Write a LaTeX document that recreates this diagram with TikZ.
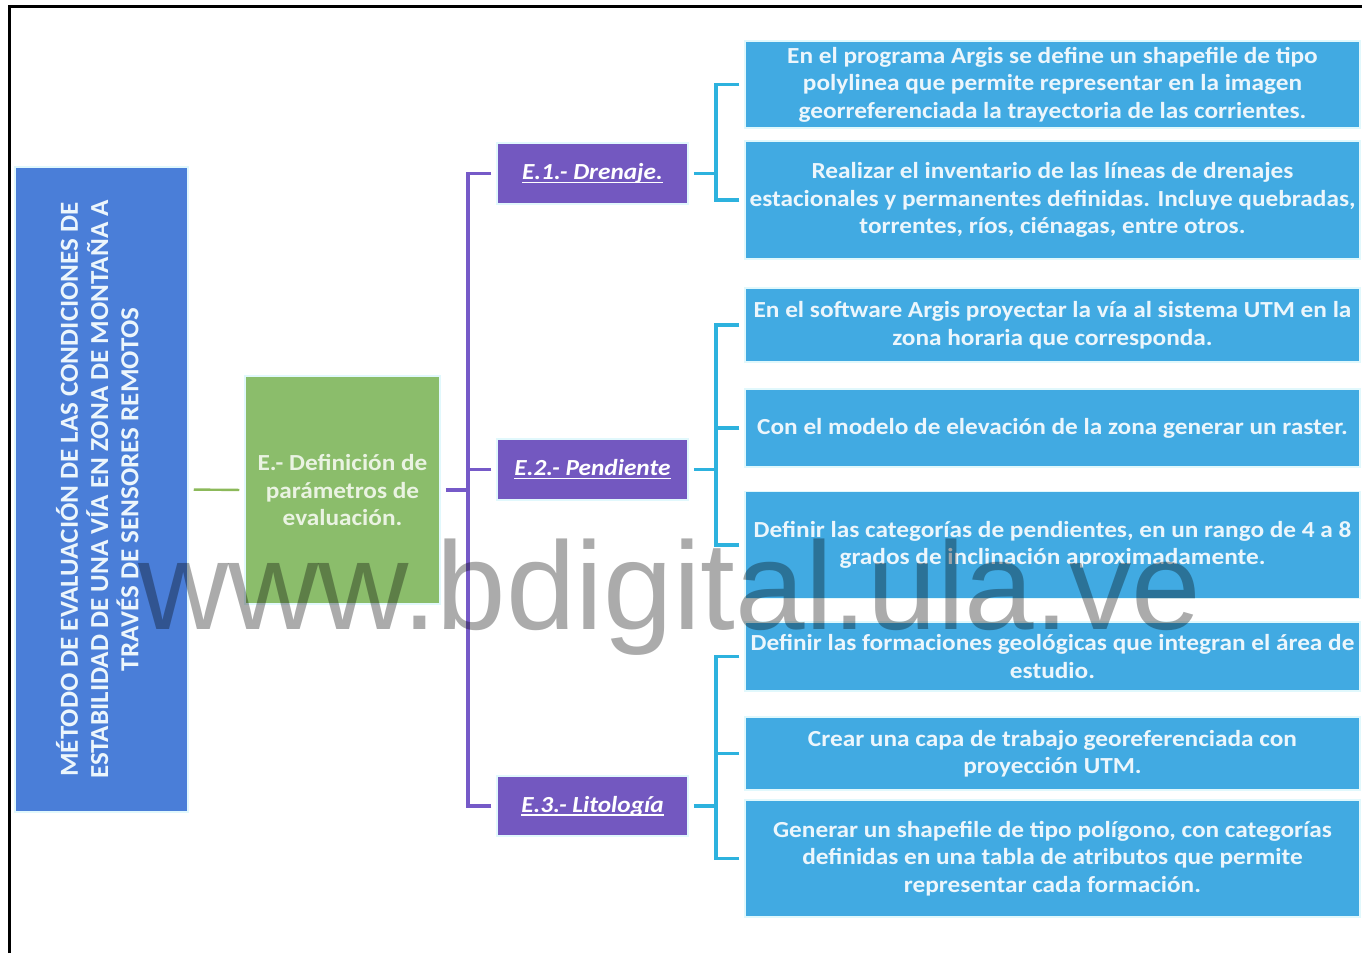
\documentclass[tikz,border=0pt]{standalone}
\usepackage{fontspec}
\setmainfont{Carlito}
\newfontfamily\boxfont{Carlito}[FakeStretch=1.10]
\newfontfamily\titlefont{Carlito}[FakeStretch=1.04]
\newfontfamily\wmfont{Liberation Sans}
\usepackage{graphicx}

% underline sitting just below the baseline
\newcommand\baseul[1]{\setbox0\hbox{#1}\rlap{\rule[-3.5pt]{\wd0}{1.3pt}}\box0}

\definecolor{mainblue}{RGB}{74,126,216}
\definecolor{leafgreen}{RGB}{139,189,107}
\definecolor{greentext}{RGB}{234,243,226}
\definecolor{violetbox}{RGB}{115,88,192}
\definecolor{skyblue}{RGB}{65,170,226}
\definecolor{boxtext}{RGB}{236,246,252}
\definecolor{glowcyan}{RGB}{225,248,252}
\definecolor{olive}{RGB}{140,185,90}
\definecolor{violetline}{RGB}{118,90,200}
\definecolor{cyanline}{RGB}{45,178,222}

\begin{document}
\begin{tikzpicture}[x=1pt,y=-1pt,
  box/.style={inner sep=0pt, align=center, draw=glowcyan, line width=1.5pt,
              font=\boxfont\fontsize{23}{27.5}\selectfont\bfseries},
  mainbox/.style={box, fill=mainblue, text=boxtext, minimum width=173pt, minimum height=645pt,
                  font=\titlefont\fontsize{26}{28}\selectfont\bfseries},
  greenbox/.style={box, fill=leafgreen, text=greentext, minimum width=195pt, minimum height=228pt},
  subbox/.style={box, fill=violetbox, text=white, minimum width=191pt, minimum height=61pt,
                 font=\boxfont\fontsize{23}{27.5}\selectfont\bfseries\itshape},
  infobox/.style={box, fill=skyblue, text=boxtext, minimum width=615pt},
  link/.style={line width=3.2pt, line join=miter, shorten <=5pt}
]
\useasboundingbox (0,0) rectangle (1362,953);

% frame
\draw[line width=3pt] (9,953) -- (9,6) -- (1362,6);

% title block
\node[mainbox] (main) at (101.5,489.5) {\rotatebox{90}{\begin{tabular}{@{}c@{}}
  MÉTODO DE EVALUACIÓN DE LAS CONDICIONES DE\\
  ESTABILIDAD DE UNA VÍA EN ZONA DE MONTAÑA A\\
  TRAVÉS DE SENSORES REMOTOS\end{tabular}}};

% parameter block
\node[greenbox] (param) at (342.5,490) {E.- Definición de\\parámetros de\\evaluación.};

% sub-topics
\node[subbox] (e1) at (592.5,173.5) {\baseul{E.1.- Drenaje.}};
\node[subbox] (e2) at (592.5,469.5) {\baseul{E.2.- Pendiente}};
\node[subbox, minimum height=60pt] (e3) at (592.5,806) {\baseul{E.3.- Litología}};

% steps
\node[infobox, minimum height=87pt] (b1) at (1052.5,84.5)
  {En el programa Argis se define un shapefile de tipo\\polylinea que permite representar en la imagen\\georreferenciada la trayectoria de las corrientes.};
\node[infobox, minimum height=118pt] (b2) at (1052.5,200)
  {Realizar el inventario de las líneas de drenajes\\estacionales y permanentes definidas. Incluye quebradas,\\torrentes, ríos, ciénagas, entre otros.};
\node[infobox, minimum height=74pt] (b3) at (1052.5,325)
  {En el software Argis proyectar la vía al sistema UTM en la\\zona horaria que corresponda.};
\node[infobox, minimum height=78pt] (b4) at (1052.5,428)
  {Con el modelo de elevación de la zona generar un raster.};
\node[infobox, minimum height=107pt] (b5) at (1052.5,545)
  {Definir las categorías de pendientes, en un rango de 4 a 8\\grados de inclinación aproximadamente.};
\node[infobox, minimum height=69pt] (b6) at (1052.5,656.5)
  {Definir las formaciones geológicas que integran el área de\\estudio.};
\node[infobox, minimum height=73pt] (b7) at (1052.5,753.5)
  {Crear una capa de trabajo georeferenciada con\\proyección UTM.};
\node[infobox, minimum height=117pt] (b8) at (1052.5,858.5)
  {Generar un shapefile de tipo polígono, con categorías\\definidas en una tabla de atributos que permite\\representar cada formación.};

% connectors
\draw[link, olive, line width=2.4pt, shorten >=5pt] (main.east) -- (param.west);

\coordinate (pj) at (468,490);
\draw[link, violetline] (param.east) -- (pj);
\draw[link, violetline] (e1.west) -| (pj);
\draw[link, violetline] (e2.west) -| (pj);
\draw[link, violetline] (e3.west) -| (pj);

\coordinate (c1) at (716,173.5);
\draw[link, cyanline] (e1.east) -- (c1);
\draw[link, cyanline] (b1.west) -| (c1);
\draw[link, cyanline] (b2.west) -| (c1);

\coordinate (c2) at (716,469.5);
\draw[link, cyanline] (e2.east) -- (c2);
\draw[link, cyanline] (b3.west) -| (c2);
\draw[link, cyanline] (b4.west) -| (c2);
\draw[link, cyanline] (b5.west) -| (c2);

\coordinate (c3) at (716,806);
\draw[link, cyanline] (e3.east) -- (c3);
\draw[link, cyanline] (b6.west) -| (c3);
\draw[link, cyanline] (b7.west) -| (c3);
\draw[link, cyanline] (b8.west) -| (c3);

% watermark
\node[anchor=base west, inner sep=0pt, text=black, text opacity=0.33,
      font=\wmfont\fontsize{125}{125}\selectfont] (wm) at (138,629) {www.bdigital.ula.ve};
\end{tikzpicture}
\end{document}
